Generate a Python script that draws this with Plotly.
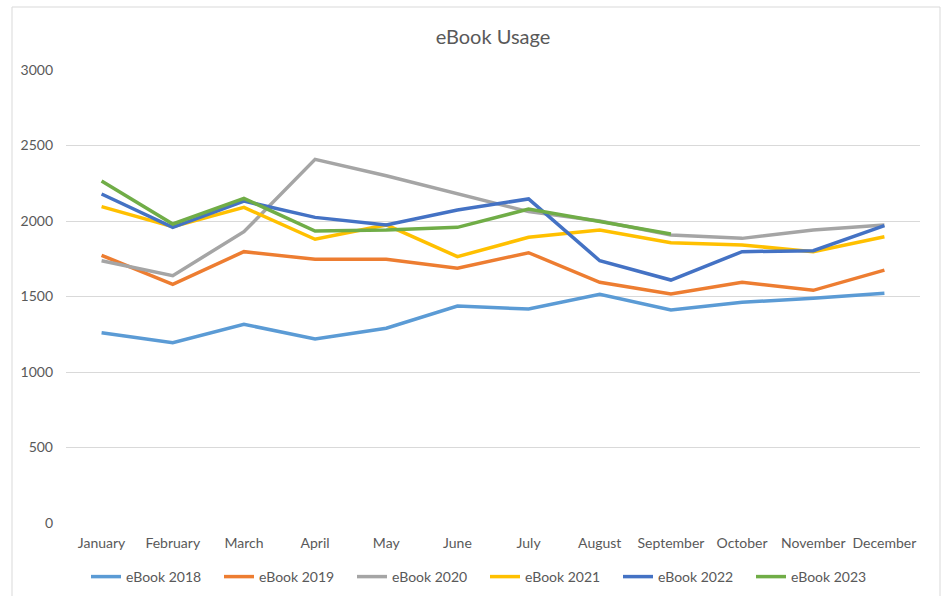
import plotly.graph_objects as go

months = ["January", "February", "March", "April", "May", "June", "July",
          "August", "September", "October", "November", "December"]

ebook_2018 = [1260, 1194, 1316, 1218, 1290, 1437, 1417, 1514, 1411, 1462, 1488, 1521]
ebook_2019 = [1773, 1581, 1797, 1746, 1746, 1687, 1790, 1594, 1517, 1594, 1541, 1675]
ebook_2020 = [1737, 1638, 1929, 2408, 2300, 2183, 2062, 2000, 1907, 1885, 1940, 1973]
ebook_2021 = [2095, 1963, 2090, 1879, 1974, 1764, 1892, 1940, 1856, 1841, 1797, 1896]
ebook_2022 = [2179, 1958, 2132, 2024, 1974, 2073, 2146, 1737, 1609, 1797, 1803, 1969]
ebook_2023 = [2265, 1980, 2150, 1934, 1940, 1958, 2079, 1995, 1914]

series = [
    ("eBook 2018", ebook_2018, "#5B9BD5"),
    ("eBook 2019", ebook_2019, "#ED7D31"),
    ("eBook 2020", ebook_2020, "#A5A5A5"),
    ("eBook 2021", ebook_2021, "#FFC000"),
    ("eBook 2022", ebook_2022, "#4472C4"),
    ("eBook 2023", ebook_2023, "#70AD47"),
]

y_ticks = [0, 500, 1000, 1500, 2000, 2500, 3000]

FONT = "Lato, Open Sans, sans-serif"
TXT = "#595959"

fig = go.Figure()
for name, vals, color in series:
    fig.add_trace(go.Scatter(
        x=months[:len(vals)], y=vals, name=name, mode="lines",
        line=dict(color=color, width=3.5),
    ))

W, H = 942, 596
L, R, T, B = 66, 22, 70, 73
pw, ph = W - L - R, H - T - B

def px_x(p):
    return (p - L) / pw

def px_y(p):
    return (H - B - p) / ph

fig.update_layout(
    width=W, height=H,
    margin=dict(l=L, r=R, t=T, b=B, autoexpand=False),
    paper_bgcolor="white", plot_bgcolor="white",
    font=dict(family=FONT, size=14, color=TXT),
    title=dict(text="eBook Usage", x=0.5, xref="paper", xanchor="center",
               y=1 - 37 / H, yanchor="middle",
               font=dict(family=FONT, size=20, color=TXT)),
    showlegend=True,
    legend=dict(orientation="h", xref="container", yref="container",
                x=0.5 + 14 / W, xanchor="center",
                y=1 - 577 / H, yanchor="middle",
                font=dict(family=FONT, size=14, color=TXT),
                entrywidth=88, entrywidthmode="pixels",
                bgcolor="rgba(0,0,0,0)"),
    xaxis=dict(
        type="category", categoryorder="array", categoryarray=months,
        range=[-0.5, len(months) - 0.5],
        showgrid=False, showline=False, zeroline=False, ticks="",
        ticklabelstandoff=10,
        tickfont=dict(family=FONT, size=14, color=TXT),
        fixedrange=True,
    ),
    yaxis=dict(
        range=[0, 3000], tickvals=y_ticks, ticktext=[str(v) for v in y_ticks],
        showgrid=True, gridcolor="#D9D9D9", gridwidth=1,
        zeroline=False, showline=False, ticks="",
        ticklabelstandoff=12,
        tickfont=dict(family=FONT, size=14, color=TXT),
        fixedrange=True,
    ),
    shapes=[dict(type="rect", xref="paper", yref="paper",
                 x0=px_x(12), x1=px_x(940), y0=px_y(7), y1=px_y(610),
                 line=dict(color="#D9D9D9", width=1), layer="below")],
)

fig.write_html("out.html")
